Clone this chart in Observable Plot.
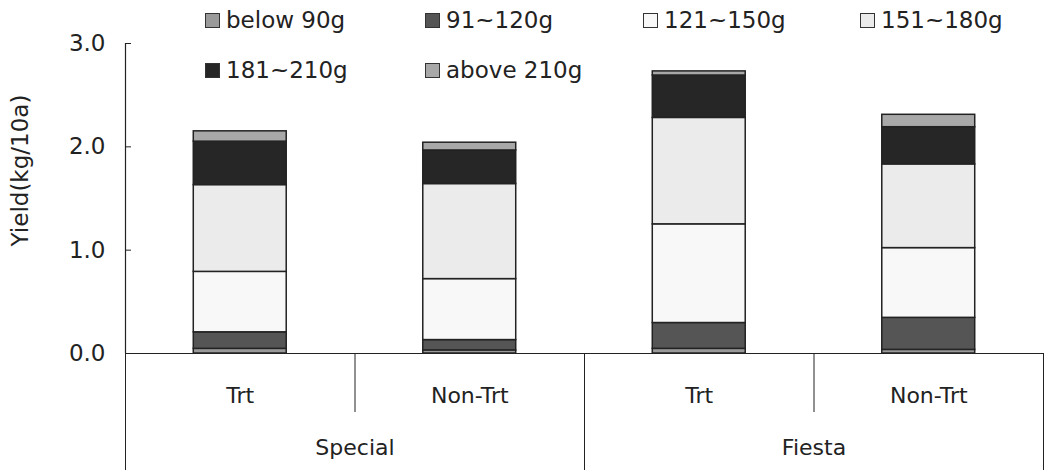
<!DOCTYPE html>
<html>
<head>
<meta charset="utf-8">
<script src="https://cdn.jsdelivr.net/npm/d3@7"></script>
<script src="https://cdn.jsdelivr.net/npm/@observablehq/plot@0.6"></script>
<style>
  html, body { margin: 0; padding: 0; background: #fff; }
  #wrap { position: relative; width: 1058px; height: 474px; font-family: "DejaVu Sans", sans-serif; color: #222; }
  #legend { position: absolute; left: 205px; top: 0px; display: grid; grid-template-columns: 220px 218px 217px 200px; grid-auto-rows: 50px; font-size: 23px; }
  .item { display: flex; align-items: center; height: 40px; }
  .sw { width: 13px; height: 13px; border: 1.5px solid #333; margin-right: 6px; flex: none; }
</style>
</head>
<body>
<div id="wrap"><div id="chart"></div><div id="legend"></div></div>
<script>
const varieties = ["Special", "Fiesta"];
const treatments = ["Trt", "Non-Trt"];
const sizes = ["below 90g", "91~120g", "121~150g", "151~180g", "181~210g", "above 210g"];
const colors = ["#9a9a9a", "#555555", "#f8f8f8", "#ebebeb", "#262626", "#a8a8a8"];
// yields (kg/10a) per size class, bars in order: Special-Trt, Special-Non-Trt, Fiesta-Trt, Fiesta-Non-Trt
const belowNinety  = [0.045, 0.03, 0.045, 0.035];
const s91to120     = [0.16, 0.10, 0.25, 0.31];
const s121to150    = [0.585, 0.59, 0.955, 0.675];
const s151to180    = [0.84, 0.92, 1.03, 0.81];
const s181to210    = [0.42, 0.325, 0.41, 0.36];
const aboveTwoTen  = [0.10, 0.075, 0.04, 0.12];
const series = [belowNinety, s91to120, s121to150, s151to180, s181to210, aboveTwoTen];

const bars = [];
varieties.forEach((v, vi) => treatments.forEach((t, ti) => bars.push({variety: v, treatment: t, i: vi * 2 + ti})));
const rows = [];
bars.forEach(b => series.forEach((s, k) => rows.push({...b, size: sizes[k], value: s[b.i]})));

const hw = 0.2025;
const chart = Plot.plot({
  width: 1058, height: 474,
  marginTop: 43, marginBottom: 121, marginLeft: 125, marginRight: 15,
  style: {fontFamily: "DejaVu Sans, sans-serif", fontSize: "22px", color: "#222"},
  x: {type: "linear", domain: [0, 4], axis: null},
  y: {domain: [0, 3], axis: null},
  color: {domain: sizes, range: colors},
  marks: [
    Plot.rectY(rows, {x1: d => d.i + 0.5 - hw, x2: d => d.i + 0.5 + hw, y: "value", fill: "size", stroke: "#222", strokeWidth: 1.5}),
    Plot.ruleY([0], {stroke: "#222", strokeWidth: 1.2}),
    Plot.ruleX([0], {stroke: "#222", strokeWidth: 1.2}),
    Plot.axisY({ticks: [0, 1, 2, 3], tickFormat: d3.format(".1f"), tickSize: 0, tickPadding: 20, fontSize: 23, label: null}),
    Plot.axisY({ticks: [0, 1, 2, 3], tickSize: -6, tickFormat: () => "", stroke: "#222", label: null}),
    Plot.axisX({ticks: bars.map(b => b.i + 0.5), tickSize: 0, tickPadding: 34, fontSize: 22, label: null, tickFormat: d => bars[Math.floor(d)].treatment}),
    Plot.axisX({ticks: [1, 3], tickSize: 59, tickFormat: () => "", stroke: "#222", label: null}),
    Plot.axisX({ticks: [0, 2, 4], tickSize: 117, tickFormat: () => "", stroke: "#222", label: null}),
    Plot.axisX({ticks: [1, 3], tickSize: 0, tickPadding: 86, fontSize: 22, label: null, tickFormat: d => varieties[(d - 1) / 2]}),
    Plot.text(["Yield(kg/10a)"], {frameAnchor: "left", textAnchor: "middle", rotate: -90, dx: -105, dy: -28, fontSize: 23, fill: "#222"})
  ]
});
document.getElementById("chart").appendChild(chart);

const legend = document.getElementById("legend");
sizes.forEach((s, k) => {
  const it = document.createElement("div");
  it.className = "item";
  it.innerHTML = `<span class="sw" style="background:${colors[k]}"></span><span>${s}</span>`;
  legend.appendChild(it);
});
</script>
</body>
</html>
